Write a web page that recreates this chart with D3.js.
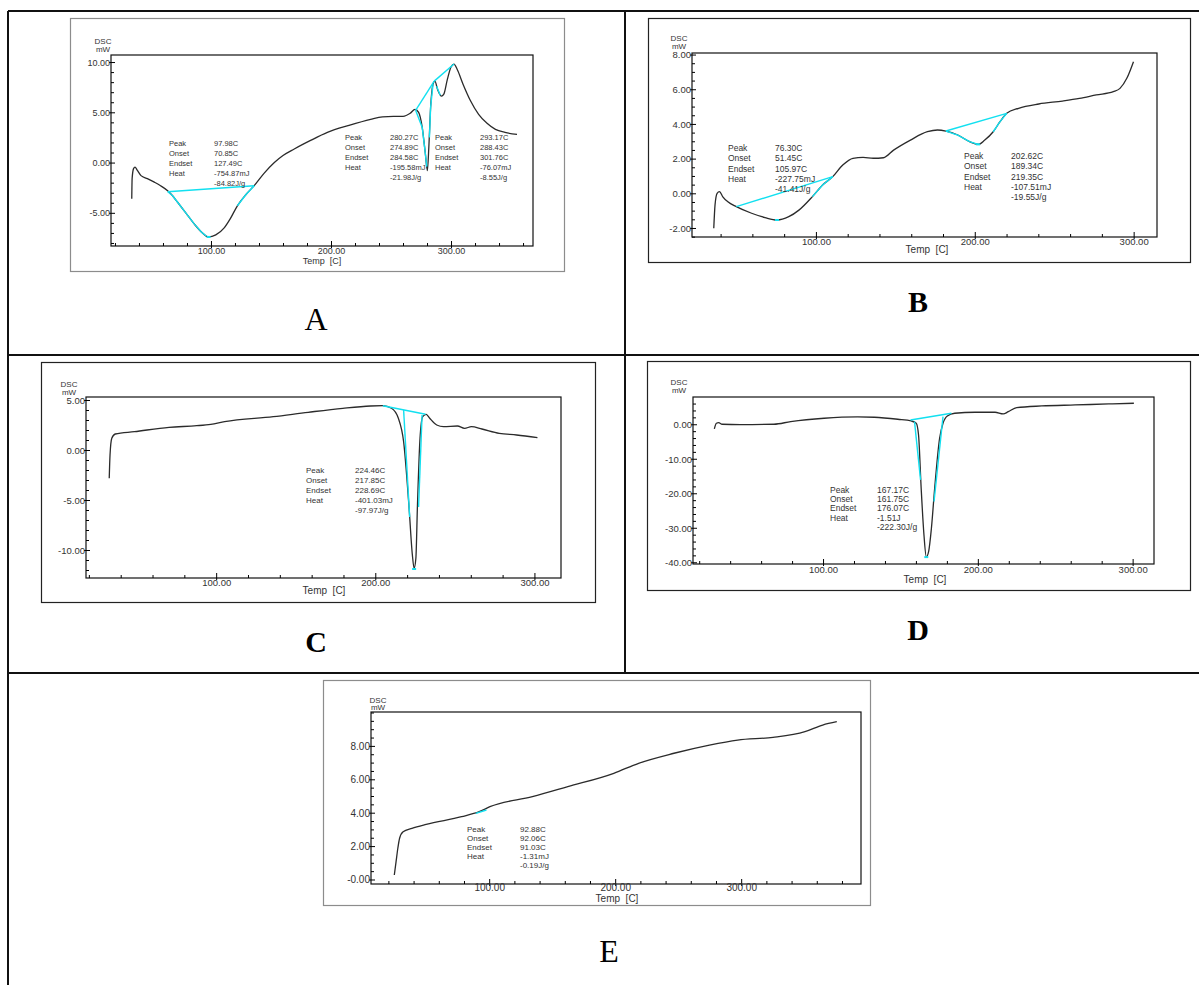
<!DOCTYPE html>
<html>
<head>
<meta charset="utf-8">
<script src="https://cdn.jsdelivr.net/npm/d3@7"></script>
<style>
  body { margin: 0; background: #fff; }
  svg { display: block; font-family: "Liberation Sans", Arial, sans-serif; }
</style>
</head>
<body>
<svg id="fig" width="1199" height="985"></svg>
<script>
// ---- data: [temperature C, heat flow mW] ----
var tickX = [100, 200, 300];
var tickXLabels = ["100.00", "200.00", "300.00"];
var noteLabels = ["Peak", "Onset", "Endset", "Heat"];

var curveA = [[34,-3.6],[34.3,-1.6],[35.5,-0.6],[36.7,-0.45],[38.5,-0.75],[41.7,-1.3],[47,-1.6],[52.8,-1.95],[58,-2.3],[63.9,-2.8],[68,-3.3],[72.2,-3.95],[79,-5.0],[86,-6.1],[92,-6.9],[98,-7.4],[104,-7.2],[111,-6.5],[116,-5.6],[122,-4.3],[129,-3.2],[136,-2.3],[144,-1.1],[152.8,0],[160,0.7],[169.4,1.35],[183,2.2],[197,3.0],[215,3.7],[233,4.3],[243,4.55],[252,4.6],[260,4.6],[266,4.9],[270,5.3],[273,5.0],[276,3.5],[278.5,1.0],[280.3,-0.8],[281.5,1.5],[283,5.5],[285,7.8],[286.5,8.1],[289,7.2],[292,6.6],[294,6.8],[297,8.3],[300,9.5],[302.5,9.8],[305,9.3],[310,7.8],[316,6.2],[323,4.8],[330,3.9],[337,3.3],[345,3.0],[355,2.8]];
var cyanA = [
  [[64,-2.9],[136,-2.3]],
  [[64,-2.9],[68,-3.3],[72.2,-3.95],[79,-5.0],[86,-6.1],[92,-6.9],[96,-7.3]],
  [[122,-4.3],[129,-3.2],[136,-2.3]],
  [[270.5,5.2],[286,8.1]],
  [[286,8.1],[302.5,9.8]],
  [[270.5,5.2],[276,3.5],[278.5,1.0],[279.8,-0.4]],
  [[282,2.5],[283,5.5],[285,7.8]],
  [[288,7.6],[291,6.7]]
];
var peaksA = [[98,-7.4]];
var yTicksA = [10, 5, 0, -5];
var yLabelsA = ["10.00", "5.00", "0.00", "-5.00"];
var notesA1 = ["97.98C", "70.85C", "127.49C", "-754.87mJ", "-84.82J/g"];
var notesA2 = ["280.27C", "274.89C", "284.58C", "-195.58mJ", "-21.98J/g"];
var notesA3 = ["293.17C", "288.43C", "301.76C", "-76.07mJ", "-8.55J/g"];

var curveB = [[35.7,-2.02],[36.5,-0.67],[37.8,0],[39.3,0.1],[41.4,-0.2],[44.6,-0.49],[49.9,-0.77],[59.5,-1.15],[68,-1.4],[75.5,-1.54],[82.9,-1.35],[89.3,-0.97],[97.8,-0.19],[104.2,0.48],[110.6,0.96],[116.9,1.63],[123.3,2.02],[129.7,2.07],[136.1,2.02],[142.5,2.05],[148.9,2.49],[159.5,3.07],[170.2,3.55],[176.5,3.65],[181.8,3.59],[189.3,3.36],[196.7,2.98],[202.1,2.82],[206.3,3.07],[211.6,3.55],[215.9,4.13],[220.1,4.61],[227.6,4.9],[240.3,5.15],[255.2,5.32],[265.9,5.47],[276.5,5.67],[287.2,5.86],[291.4,6.05],[295.7,6.63],[299.9,7.59]];
var cyanB = [
  [[49.9,-0.77],[110.6,0.96]],
  [[97.8,-0.19],[104.2,0.48],[110.6,0.96]],
  [[181.8,3.59],[220.1,4.61]],
  [[181.8,3.59],[189.3,3.36],[196.7,2.98],[202.1,2.82]],
  [[211.6,3.55],[215.9,4.13],[220.1,4.61]]
];
var peaksB = [[75.5,-1.54],[202.1,2.82]];
var yTicksB = [8, 6, 4, 2, 0, -2];
var yLabelsB = ["8.00", "6.00", "4.00", "2.00", "0.00", "-2.00"];
var notesB1 = ["76.30C", "51.45C", "105.97C", "-227.75mJ", "-41.41J/g"];
var notesB2 = ["202.62C", "189.34C", "219.35C", "-107.51mJ", "-19.55J/g"];

var curveC = [[32.8,-2.83],[33.3,-0.5],[34.4,1.17],[36.6,1.6],[48.6,1.83],[70.4,2.27],[87.8,2.43],[96.6,2.57],[105.3,2.83],[135.9,3.33],[157.8,3.77],[179.6,4.17],[197,4.4],[204.7,4.43],[210.2,4.17],[214.5,3.17],[217.8,0.83],[221.1,-5.5],[223.3,-10.5],[224.4,-11.83],[225.5,-10.83],[226.5,-5.5],[228.1,1.17],[229.8,3.33],[232,3.57],[234.2,3.17],[238.6,2.5],[242.9,2.33],[251.6,2.4],[256.1,2.17],[260.4,2.33],[267,2.1],[277.9,1.67],[288.8,1.5],[301.9,1.23]];
var cyanC = [
  [[204.7,4.43],[231.6,3.57]],
  [[217.8,4.0],[221.6,-6.7]],
  [[229.4,3.5],[227.2,-5.7]]
];
var peaksC = [[224.4,-11.9]];
var yTicksC = [5, 0, -5, -10];
var yLabelsC = ["5.00", "0.00", "-5.00", "-10.00"];
var notesC = ["224.46C", "217.85C", "228.69C", "-401.03mJ", "-97.97J/g"];

var curveD = [[29.8,-1.36],[31.1,0.29],[32.6,0.46],[34.8,0],[46.6,-0.1],[68.3,0],[79.1,0.77],[100.7,1.74],[122.4,2.12],[133.2,2.03],[148.3,1.45],[157,0.96],[160.2,0.29],[161.7,-3.1],[163.4,-18.6],[165.2,-32.1],[166.7,-38.4],[168.2,-36.9],[170,-30.2],[172.1,-18.6],[175.3,-4.06],[177.5,0.29],[180.3,2.41],[185.1,3.19],[198.1,3.48],[211.1,3.48],[216.4,2.99],[219.7,3.65],[225.1,4.81],[241.3,5.3],[262.9,5.59],[284.6,5.88],[300.8,6.09]];
var cyanD = [
  [[156.5,1.25],[182.9,3.19]],
  [[159.1,0.77],[163,-16.1]],
  [[177.5,2.2],[171.7,-22.4]]
];
var peaksD = [[166.7,-38.5]];
var yTicksD = [0, -10, -20, -30, -40];
var yLabelsD = ["0.00", "-10.00", "-20.00", "-30.00", "-40.00"];
var notesD = ["167.17C", "161.75C", "176.07C", "-1.51J", "-222.30J/g"];

var curveE = [[24.7,0.27],[26.1,1.07],[27.5,1.87],[28.9,2.47],[31.7,2.86],[38.7,3.06],[50,3.3],[78.1,3.76],[92.1,4.06],[100.6,4.36],[134.3,4.96],[162.4,5.56],[198.9,6.36],[218.6,6.96],[246.7,7.56],[274.8,8.05],[297.2,8.35],[325.3,8.51],[350.6,8.85],[364.7,9.25],[375.9,9.45]];
var cyanE = [
  [[89.4,3.96],[97.8,4.16]]
];
var peaksE = [];
var yTicksE = [8, 6, 4, 2, 0];
var yLabelsE = ["8.00", "6.00", "4.00", "2.00", "-0.00"];
var notesE = ["92.88C", "92.06C", "91.03C", "-1.31mJ", "-0.19J/g"];

// ---- layout of each thermogram on the page ----
var panels = [
  { curve: curveA, cyan: cyanA, peaks: peaksA, yTicks: yTicksA, yLabels: yLabelsA, yMinor: 1,
    frame: [70, 18, 494, 253], frameColor: "#8c8c8c", plot: [111, 55, 422, 191],
    xDom: [16.7, 368.3], yDom: [-8.3, 10.7],
    notes: [{x: 169, y: 146, vals: notesA1}, {x: 345, y: 140, vals: notesA2}, {x: 435, y: 140, vals: notesA3}],
    noteDx: 45, noteDy: 10, fsNote: 7.5, fsTick: 9, fsAxis: 9, fsDsc: 8,
    dsc: [103, 44], temp: [322, 264], xLab: 7.5,
    letter: {t: "A", x: 316, y: 330, bold: false, size: 32} },
  { curve: curveB, cyan: cyanB, peaks: peaksB, yTicks: yTicksB, yLabels: yLabelsB, yMinor: 0.5,
    frame: [648, 18, 542, 244], frameColor: "#222", plot: [692, 53, 465, 184],
    xDom: [22.0, 314.7], yDom: [-2.52, 8.09],
    notes: [{x: 728, y: 151, vals: notesB1}, {x: 964, y: 159, vals: notesB2}],
    noteDx: 47, noteDy: 10.3, fsNote: 8.5, fsTick: 9.5, fsAxis: 10, fsDsc: 8,
    dsc: [679, 41], temp: [927, 253], xLab: 8,
    letter: {t: "B", x: 918, y: 312, bold: true, size: 30} },
  { curve: curveC, cyan: cyanC, peaks: peaksC, yTicks: yTicksC, yLabels: yLabelsC, yMinor: 1,
    frame: [41, 362, 554, 240], frameColor: "#222", plot: [86, 397, 475, 181],
    xDom: [18.2, 316.7], yDom: [-12.8, 5.3],
    notes: [{x: 306, y: 473, vals: notesC}],
    noteDx: 49, noteDy: 10, fsNote: 8, fsTick: 9.5, fsAxis: 10, fsDsc: 8,
    dsc: [69, 387], temp: [324, 594], xLab: 8,
    letter: {t: "C", x: 316, y: 652, bold: true, size: 30} },
  { curve: curveD, cyan: cyanD, peaks: peaksD, yTicks: yTicksD, yLabels: yLabelsD, yMinor: 2,
    frame: [647, 361, 543, 229], frameColor: "#222", plot: [693, 397, 461, 167],
    xDom: [16.0, 313.8], yDom: [-40.5, 7.9],
    notes: [{x: 830, y: 493, vals: notesD}],
    noteDx: 47, noteDy: 9.2, fsNote: 8.5, fsTick: 9.5, fsAxis: 10, fsDsc: 8,
    dsc: [679, 385], temp: [925, 582.5], xLab: 9,
    letter: {t: "D", x: 918, y: 640, bold: true, size: 30} },
  { curve: curveE, cyan: cyanE, peaks: peaksE, yTicks: yTicksE, yLabels: yLabelsE, yMinor: 0.5,
    frame: [323, 680, 547, 225], frameColor: "#8c8c8c", plot: [371, 712, 490, 172],
    xDom: [6.2, 395.1], yDom: [-0.27, 10.03],
    notes: [{x: 467, y: 832, vals: notesE}],
    noteDx: 53, noteDy: 9, fsNote: 8, fsTick: 10, fsAxis: 10, fsDsc: 8,
    dsc: [378, 702.5], temp: [617, 902], xLab: 7,
    letter: {t: "E", x: 609, y: 962, bold: false, size: 32} }
];

var svg = d3.select("#fig");

// table grid round the five figures
var grid = svg.append("g").attr("stroke", "#111").attr("stroke-width", 2).attr("fill", "none");
grid.append("line").attr("x1", 8).attr("x2", 1199).attr("y1", 11).attr("y2", 11);
grid.append("line").attr("x1", 8).attr("x2", 8).attr("y1", 11).attr("y2", 985);
grid.append("line").attr("x1", 625).attr("x2", 625).attr("y1", 11).attr("y2", 673);
grid.append("line").attr("x1", 8).attr("x2", 1199).attr("y1", 355).attr("y2", 355);
grid.append("line").attr("x1", 8).attr("x2", 1199).attr("y1", 673).attr("y2", 673);

panels.forEach(drawPanel);

function drawPanel(p) {
  var px = p.plot[0], py = p.plot[1], pw = p.plot[2], ph = p.plot[3];

  svg.append("rect")
    .attr("x", p.frame[0] + 0.5).attr("y", p.frame[1] + 0.5)
    .attr("width", p.frame[2]).attr("height", p.frame[3])
    .attr("fill", "none").attr("stroke", p.frameColor).attr("stroke-width", 1.2);

  var x = d3.scaleLinear().domain(p.xDom).range([0, pw]);
  var y = d3.scaleLinear().domain(p.yDom).range([ph, 0]);

  var g = svg.append("g").attr("transform", "translate(" + px + "," + py + ")");

  g.append("rect").attr("width", pw).attr("height", ph)
    .attr("fill", "none").attr("stroke", "#111").attr("stroke-width", 1.2);

  // minor ticks
  var xMinor = d3.range(20, 400, 20).filter(function(t) {
    return t > p.xDom[0] && t < p.xDom[1] && t % 100 !== 0;
  });
  var yMinor = d3.range(Math.ceil(p.yDom[0] / p.yMinor) * p.yMinor, p.yDom[1], p.yMinor).filter(function(v) {
    return p.yTicks.indexOf(Math.round(v * 100) / 100) < 0;
  });

  g.append("g").attr("transform", "translate(0," + ph + ")")
    .call(d3.axisBottom(x).tickValues(xMinor).tickSize(-3).tickFormat(""))
    .call(function(a) { a.select(".domain").remove(); });
  g.append("g")
    .call(d3.axisLeft(y).tickValues(yMinor).tickSize(-3).tickFormat(""))
    .call(function(a) { a.select(".domain").remove(); });

  // major ticks with labels
  var xa = g.append("g").attr("transform", "translate(0," + ph + ")")
    .call(d3.axisBottom(x).tickValues(tickX).tickSize(-5).tickPadding(p.xLab)
      .tickFormat(function(d, i) { return tickXLabels[i]; }));
  xa.select(".domain").remove();
  xa.selectAll("text").attr("y", p.xLab).attr("dy", 0).attr("font-size", p.fsTick).attr("fill", "#333").attr("font-family", null);
  xa.selectAll(".tick line").attr("y1", 2);

  var ya = g.append("g")
    .call(d3.axisLeft(y).tickValues(p.yTicks).tickSize(-4).tickPadding(1)
      .tickFormat(function(d, i) { return p.yLabels[i]; }));
  ya.select(".domain").remove();
  ya.selectAll("text").attr("x", -1).attr("dy", "0.35em").attr("font-size", p.fsTick).attr("fill", "#333").attr("font-family", null);
  ya.selectAll(".tick line").attr("x1", -2);

  var line = d3.line()
    .x(function(d) { return x(d[0]); })
    .y(function(d) { return y(d[1]); })
    .curve(d3.curveMonotoneX);
  var straight = d3.line()
    .x(function(d) { return x(d[0]); })
    .y(function(d) { return y(d[1]); });

  g.append("path").datum(p.curve).attr("d", line)
    .attr("fill", "none").attr("stroke", "#2b2b2b").attr("stroke-width", 1.3);

  g.selectAll(".cy").data(p.cyan).enter().append("path")
    .attr("d", straight).attr("fill", "none")
    .attr("stroke", "#12e0f0").attr("stroke-width", 1.4);

  g.selectAll(".pk").data(p.peaks).enter().append("line")
    .attr("x1", function(d) { return x(d[0]) - 2; })
    .attr("x2", function(d) { return x(d[0]) + 2; })
    .attr("y1", function(d) { return y(d[1]); })
    .attr("y2", function(d) { return y(d[1]); })
    .attr("stroke", "#12e0f0").attr("stroke-width", 2);

  // axis titles
  svg.append("text").attr("x", p.dsc[0]).attr("y", p.dsc[1]).attr("text-anchor", "middle")
    .attr("font-size", p.fsDsc).attr("fill", "#333").text("DSC");
  svg.append("text").attr("x", p.dsc[0]).attr("y", p.dsc[1] + 7.5).attr("text-anchor", "middle")
    .attr("font-size", p.fsDsc).attr("fill", "#333").text("mW");
  svg.append("text").attr("x", p.temp[0]).attr("y", p.temp[1]).attr("text-anchor", "middle")
    .attr("font-size", p.fsAxis).attr("fill", "#333").style("white-space", "pre").text("Temp  [C]");

  // peak analysis notes
  p.notes.forEach(function(n) {
    var t = svg.append("g").attr("font-size", p.fsNote).attr("fill", "#333");
    noteLabels.forEach(function(lab, i) {
      t.append("text").attr("x", n.x).attr("y", n.y + i * p.noteDy).text(lab);
    });
    n.vals.forEach(function(v, i) {
      t.append("text").attr("x", n.x + p.noteDx).attr("y", n.y + i * p.noteDy).text(v);
    });
  });

  svg.append("text").attr("x", p.letter.x).attr("y", p.letter.y).attr("text-anchor", "middle")
    .attr("font-family", "'Liberation Serif', 'Times New Roman', serif")
    .attr("font-weight", p.letter.bold ? "bold" : "normal")
    .attr("font-size", p.letter.size).attr("fill", "#000").text(p.letter.t);
}
</script>
</body>
</html>
